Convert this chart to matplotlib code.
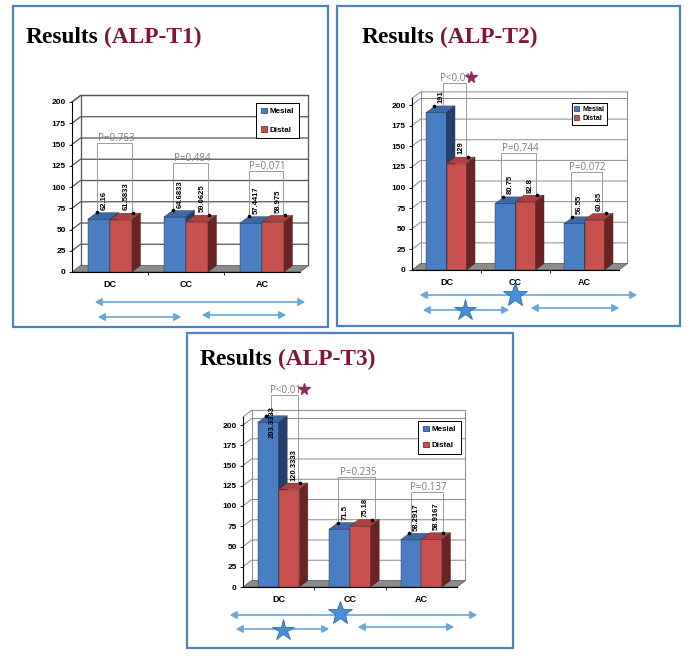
import matplotlib
matplotlib.use('Agg')
import matplotlib.pyplot as plt
from matplotlib.patches import Polygon, Rectangle, FancyArrowPatch, Patch
import numpy as np

plt.rcParams['font.family'] = ['Liberation Sans', 'DejaVu Sans']

# ---------------- data ----------------
categories = ['DC', 'CC', 'AC']
series_names = ['Mesial', 'Distal']
yticks = [0, 25, 50, 75, 100, 125, 150, 175, 200]

t1_mesial = [62.16, 64.6833, 57.4417]
t1_distal = [61.5833, 59.0625, 58.975]
t1_pvalues = ['P=0.753', 'P=0.484', 'P=0.071']

t2_mesial = [191, 80.75, 56.55]
t2_distal = [129, 82.8, 60.65]
t2_pvalues = ['P<0.01', 'P=0.744', 'P=0.072']

t3_mesial = [203.3333, 71.5, 58.2917]
t3_distal = [120.3333, 75.18, 58.9167]
t3_pvalues = ['P<0.01', 'P=0.235', 'P=0.137']

titles = ['ALP-T1', 'ALP-T2', 'ALP-T3']

# ---------------- style ----------------
W, H = 690, 660
BLUE = ('#4A7EC2', '#3C69AA', '#243F6B')   # front, top, side
RED = ('#C8504D', '#B0403D', '#6A2222')
BOX = '#4F81BD'
ARROW = '#6AA6DA'
STAR = '#4A8FD6'
PURPLE = '#8E2A5A'
TITLE_RED = '#7F1734'

fig = plt.figure(figsize=(W / 100, H / 100), dpi=100)


def fmt(v):
    return ('%.4f' % v).rstrip('0').rstrip('.')


def make_axes(left, right, bottom, ppu, top_val):
    height = ppu * top_val
    ax = fig.add_axes([left / W, (H - bottom) / H, (right - left) / W, height / H])
    ax.set_facecolor('none')
    dx = 8.5 / ((right - left) / 3.0)
    dy = 6.5 / ppu
    return ax, dx, dy


def draw_chart(ax, dx, dy, top, mesial, distal, pvals, brackets, leg_anchor,
               leg_spacing, leg_size, leg_pad, grid_c, grid_lw):
    x = np.arange(len(categories))
    w = 0.29
    ax.set_xlim(-0.5, 2.5)
    ax.set_ylim(0, top)
    # floor
    ax.add_patch(Polygon([(-0.5, 0), (2.5, 0), (2.5 + dx, dy), (-0.5 + dx, dy)],
                         closed=True, fc='#8C8C8C', ec='#4d4d4d', lw=0.5,
                         zorder=1, clip_on=False))
    # gridlines on the back wall / side wall
    for yv in yticks[1:]:
        ax.plot([-0.5, -0.5 + dx, 2.5 + dx], [yv, yv + dy, yv + dy],
                color=grid_c, lw=grid_lw, zorder=0.5, clip_on=False)
    ax.plot([-0.5, -0.5 + dx, 2.5 + dx, 2.5 + dx], [top, top + dy, top + dy, dy],
            color=grid_c, lw=grid_lw, zorder=0.5, clip_on=False)
    ax.plot([-0.5 + dx, -0.5 + dx], [dy, top + dy], color=grid_c, lw=grid_lw,
            zorder=0.5, clip_on=False)

    # bars
    for vals, offs, cols, zo in ((mesial, -w / 2, BLUE, 2), (distal, w / 2, RED, 3)):
        ax.bar(x + offs, vals, w, color=cols[0], edgecolor='#333333', lw=0.3, zorder=zo)
        for xi, v in zip(x + offs, vals):
            x0, x1 = xi - w / 2, xi + w / 2
            ax.add_patch(Polygon([(x0, v), (x0 + dx, v + dy), (x1 + dx, v + dy), (x1, v)],
                                 closed=True, fc=cols[1], ec='#333333', lw=0.3,
                                 zorder=zo, clip_on=False))
            ax.add_patch(Polygon([(x1, 0), (x1, v), (x1 + dx, v + dy), (x1 + dx, dy)],
                                 closed=True, fc=cols[2], ec='#333333', lw=0.3,
                                 zorder=zo, clip_on=False))
    # value labels with leader dots
    for vals, offs, dot_off in ((mesial, -w / 2, -0.03), (distal, w / 2, 0.16)):
        for xi, v in zip(x + offs, vals):
            ax.plot([xi + dot_off], [v + 8], marker='o', ms=1.6, color='black',
                    zorder=6, clip_on=False)
            if v > 0.95 * top:
                ax.text(xi + 0.06, v, fmt(v), rotation=90, fontsize=5.5, fontweight='bold',
                        ha='center', va='center', zorder=6, clip_on=False)
            else:
                ax.text(xi + 0.07, v + 11, fmt(v), rotation=90, fontsize=5.5,
                        fontweight='bold', ha='center', va='bottom', zorder=6,
                        clip_on=False)
    # p-value brackets
    for i, (p, (bl, br, btop)) in enumerate(zip(pvals, brackets)):
        xl, xr = i + bl, i + br
        ax.plot([xl, xl, xr, xr], [mesial[i] + 8, btop, btop, distal[i] + 8],
                color='#8c8c8c', lw=0.6, zorder=4, clip_on=False)
        ax.text((xl + xr) / 2 + 0.02, btop + 5.5, p, fontsize=7, color='#7a7a7a',
                ha='center', va='center', zorder=5, clip_on=False,
                family=['Open Sans', 'DejaVu Sans'])
        if p.startswith('P<'):
            ax.plot([xr + 0.08], [btop + 7], marker='*', ms=8.5, color=PURPLE,
                    zorder=6, clip_on=False)

    # axes styling
    for s in ('top', 'right'):
        ax.spines[s].set_visible(False)
    ax.spines['left'].set_bounds(0, top)
    ax.spines['left'].set_linewidth(0.8)
    ax.spines['bottom'].set_linewidth(0.8)
    ax.set_yticks(yticks)
    ax.set_yticklabels([str(t) for t in yticks], fontweight='bold')
    ax.tick_params(axis='y', length=2.5, width=0.6, labelsize=6, pad=2)
    ax.set_xticks(x, categories, fontweight='bold')
    ax.set_xticks([0.5, 1.5], minor=True)
    ax.tick_params(axis='x', which='major', length=0, pad=6, labelsize=6.5)
    ax.tick_params(axis='x', which='minor', length=2.5, width=0.6)

    handles = [Patch(fc=BLUE[0], ec='#1F3864', lw=0.5, label=series_names[0]),
               Patch(fc=RED[0], ec='#5a1a1a', lw=0.5, label=series_names[1])]
    leg = ax.legend(handles=handles, loc='upper right', bbox_to_anchor=leg_anchor,
                    frameon=True, fancybox=False, edgecolor='black', framealpha=1,
                    prop={'weight': 'bold', 'size': leg_size}, handlelength=0.7,
                    handleheight=0.7, handletextpad=0.4, labelspacing=leg_spacing,
                    borderpad=leg_pad, borderaxespad=0)
    leg.get_frame().set_linewidth(0.7)
    leg.set_zorder(8)


# ---------------- panels ----------------
ax1, dx1, dy1 = make_axes(72, 300, 272, 0.85, 200)
draw_chart(ax1, dx1, dy1, 200, t1_mesial, t1_distal, t1_pvalues,
           [(-0.17, 0.29, 152), (-0.17, 0.29, 128), (-0.17, 0.28, 119)],
           (0.996, 0.994), 1.3, 5.8, 0.6, '#555555', 0.9)

ax2, dx2, dy2 = make_axes(412, 619, 270, 0.825, 208)
draw_chart(ax2, dx2, dy2, 208, t2_mesial, t2_distal, t2_pvalues,
           [(-0.05, 0.28, 227), (-0.21, 0.30, 142), (-0.20, 0.25, 119)],
           (0.94, 0.973), 0.35, 5.2, 0.35, '#8a8a8a', 0.7)

ax3, dx3, dy3 = make_axes(243, 457, 587, 0.81, 210)
draw_chart(ax3, dx3, dy3, 210, t3_mesial, t3_distal, t3_pvalues,
           [(-0.11, 0.27, 237), (-0.17, 0.35, 136), (-0.14, 0.30, 117)],
           (1.02, 0.976), 1.0, 5.8, 0.6, '#8a8a8a', 0.7)

# ---------------- overlay: boxes, titles, arrows, stars ----------------
ov = fig.add_axes([0, 0, 1, 1], zorder=10)
ov.set_xlim(0, W)
ov.set_ylim(H, 0)
ov.axis('off')
ov.patch.set_alpha(0)

for (x0, y0, x1, y1) in [(13, 6, 328, 327), (337, 6, 680, 326), (187, 333, 513, 648)]:
    ov.add_patch(Rectangle((x0, y0), x1 - x0, y1 - y0, fill=False, ec=BOX, lw=1.6))

for (tx, ty), name in zip([(26, 43), (362, 43), (200, 365)], titles):
    t = ov.text(tx, ty, 'Results', fontsize=16.8, fontweight='bold',
                family='Liberation Serif', color='black', va='baseline', ha='left')
    ov.annotate('(' + name + ')', xy=(1, 0), xycoords=t, xytext=(4, 0),
                textcoords='offset points', fontsize=16.8, fontweight='bold',
                family='Liberation Serif', color=TITLE_RED, va='bottom', ha='left')


def arrow(xa, xb, y):
    ov.add_patch(FancyArrowPatch((xa, y), (xb, y),
                                 arrowstyle='<|-|>,head_length=4,head_width=2.2',
                                 color=ARROW, lw=1.2, mutation_scale=1))


for seg in [(92, 308, 302), (95, 184, 317), (199, 289, 315),
            (417, 640, 295), (420, 512, 310), (528, 622, 308),
            (227, 480, 615), (233, 332, 629), (355, 457, 627)]:
    arrow(*seg)

for (sx, sy, ms) in [(515, 295, 18), (465, 310, 16), (340, 613, 18), (283, 630, 16)]:
    ov.plot([sx], [sy], marker='*', ms=ms, color=STAR, mec='#2E6DB4', mew=0.6)

fig.savefig('out.png', dpi=100)
